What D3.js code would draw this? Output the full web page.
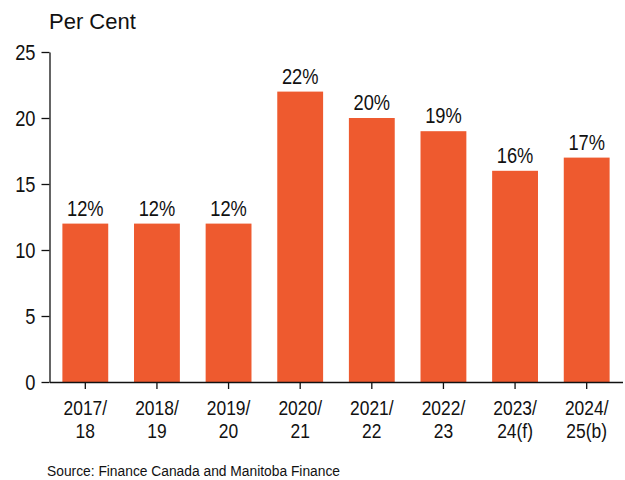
<!DOCTYPE html>
<html>
<head>
<meta charset="utf-8">
<script src="https://cdn.jsdelivr.net/npm/d3@7"></script>
<style>
  html, body { margin: 0; padding: 0; background: #fff; }
  svg { display: block; font-family: "Liberation Sans", Arial, sans-serif; }
</style>
</head>
<body>
<svg id="chart" width="625" height="480"></svg>
<script>
// Fiscal years (two-line labels) and share in per cent
const yearTop = ["2017/", "2018/", "2019/", "2020/", "2021/", "2022/", "2023/", "2024/"];
const yearBottom = ["18", "19", "20", "21", "22", "23", "24(f)", "25(b)"];
const values = [12, 12, 12, 22, 20, 19, 16, 17];
const yTicks = [0, 5, 10, 15, 20, 25];

const plotLeft = 49.5, plotRight = 622.5, plotTop = 52, plotBottom = 382;
const barColor = "#ee5a2f";
const squeeze = 0.85; // narrow glyphs

const svg = d3.select("#chart");

const x = d3.scaleBand()
  .domain(d3.range(values.length))
  .range([plotLeft, plotRight])
  .paddingInner(0.36)
  .paddingOuter(0.18);

const y = d3.scaleLinear().domain([0, 25]).range([plotBottom, plotTop]);

// Bars
svg.append("g").selectAll("rect")
  .data(values)
  .join("rect")
  .attr("x", (d, i) => x(i))
  .attr("y", d => y(d))
  .attr("width", x.bandwidth())
  .attr("height", d => y(0) - y(d))
  .attr("fill", barColor);

// Value labels
svg.append("g").selectAll("text")
  .data(values)
  .join("text")
  .attr("transform", (d, i) => `translate(${x(i) + x.bandwidth() / 2},${y(d) - 8}) scale(${squeeze},1)`)
  .attr("text-anchor", "middle")
  .attr("font-size", 21.5)
  .attr("fill", "#111")
  .text(d => d + "%");

// Y axis
const yAxis = svg.append("g")
  .attr("transform", `translate(${plotLeft},0)`)
  .call(d3.axisLeft(y).tickValues(yTicks).tickSize(8).tickPadding(6).tickSizeOuter(0));
yAxis.select(".domain").attr("stroke", "#111").attr("stroke-width", 1.3);
yAxis.selectAll(".tick line").attr("stroke", "#111").attr("stroke-width", 1.3);
yAxis.selectAll(".tick text")
  .attr("font-size", 21.5)
  .attr("font-family", "Liberation Sans, Arial, sans-serif")
  .attr("fill", "#111")
  .attr("dy", "0.34em")
  .each(function () {
    const t = d3.select(this);
    const xx = +t.attr("x");
    t.attr("x", null).attr("transform", `translate(${xx},0) scale(${squeeze},1)`);
  });

// X axis
const xAxis = svg.append("g")
  .attr("transform", `translate(0,${plotBottom})`)
  .call(d3.axisBottom(x).tickSize(7).tickSizeOuter(0).tickFormat(""));
xAxis.select(".domain").attr("stroke", "#111").attr("stroke-width", 1.3);
xAxis.selectAll(".tick line").attr("stroke", "#111").attr("stroke-width", 1.3);

// Two-line category labels, one text element per category
const cat = svg.append("g").selectAll("text")
  .data(values)
  .join("text")
  .attr("transform", (d, i) => `translate(${x(i) + x.bandwidth() / 2},${plotBottom}) scale(${squeeze},1)`)
  .attr("text-anchor", "middle")
  .attr("font-size", 20.5)
  .attr("fill", "#111");
cat.append("tspan")
  .attr("x", 0)
  .attr("y", 33.5)
  .text((d, i) => yearTop[i]);
cat.append("tspan")
  .attr("x", 0)
  .attr("y", 56.5)
  .text((d, i) => yearBottom[i]);

// Unit title
svg.append("text")
  .attr("x", 49)
  .attr("y", 29)
  .attr("font-size", 22)
  .attr("fill", "#111")
  .text("Per Cent");

// Source note
svg.append("text")
  .attr("x", 47)
  .attr("y", 476)
  .attr("font-size", 13.8)
  .attr("fill", "#111")
  .text("Source: Finance Canada and Manitoba Finance");
</script>
</body>
</html>
